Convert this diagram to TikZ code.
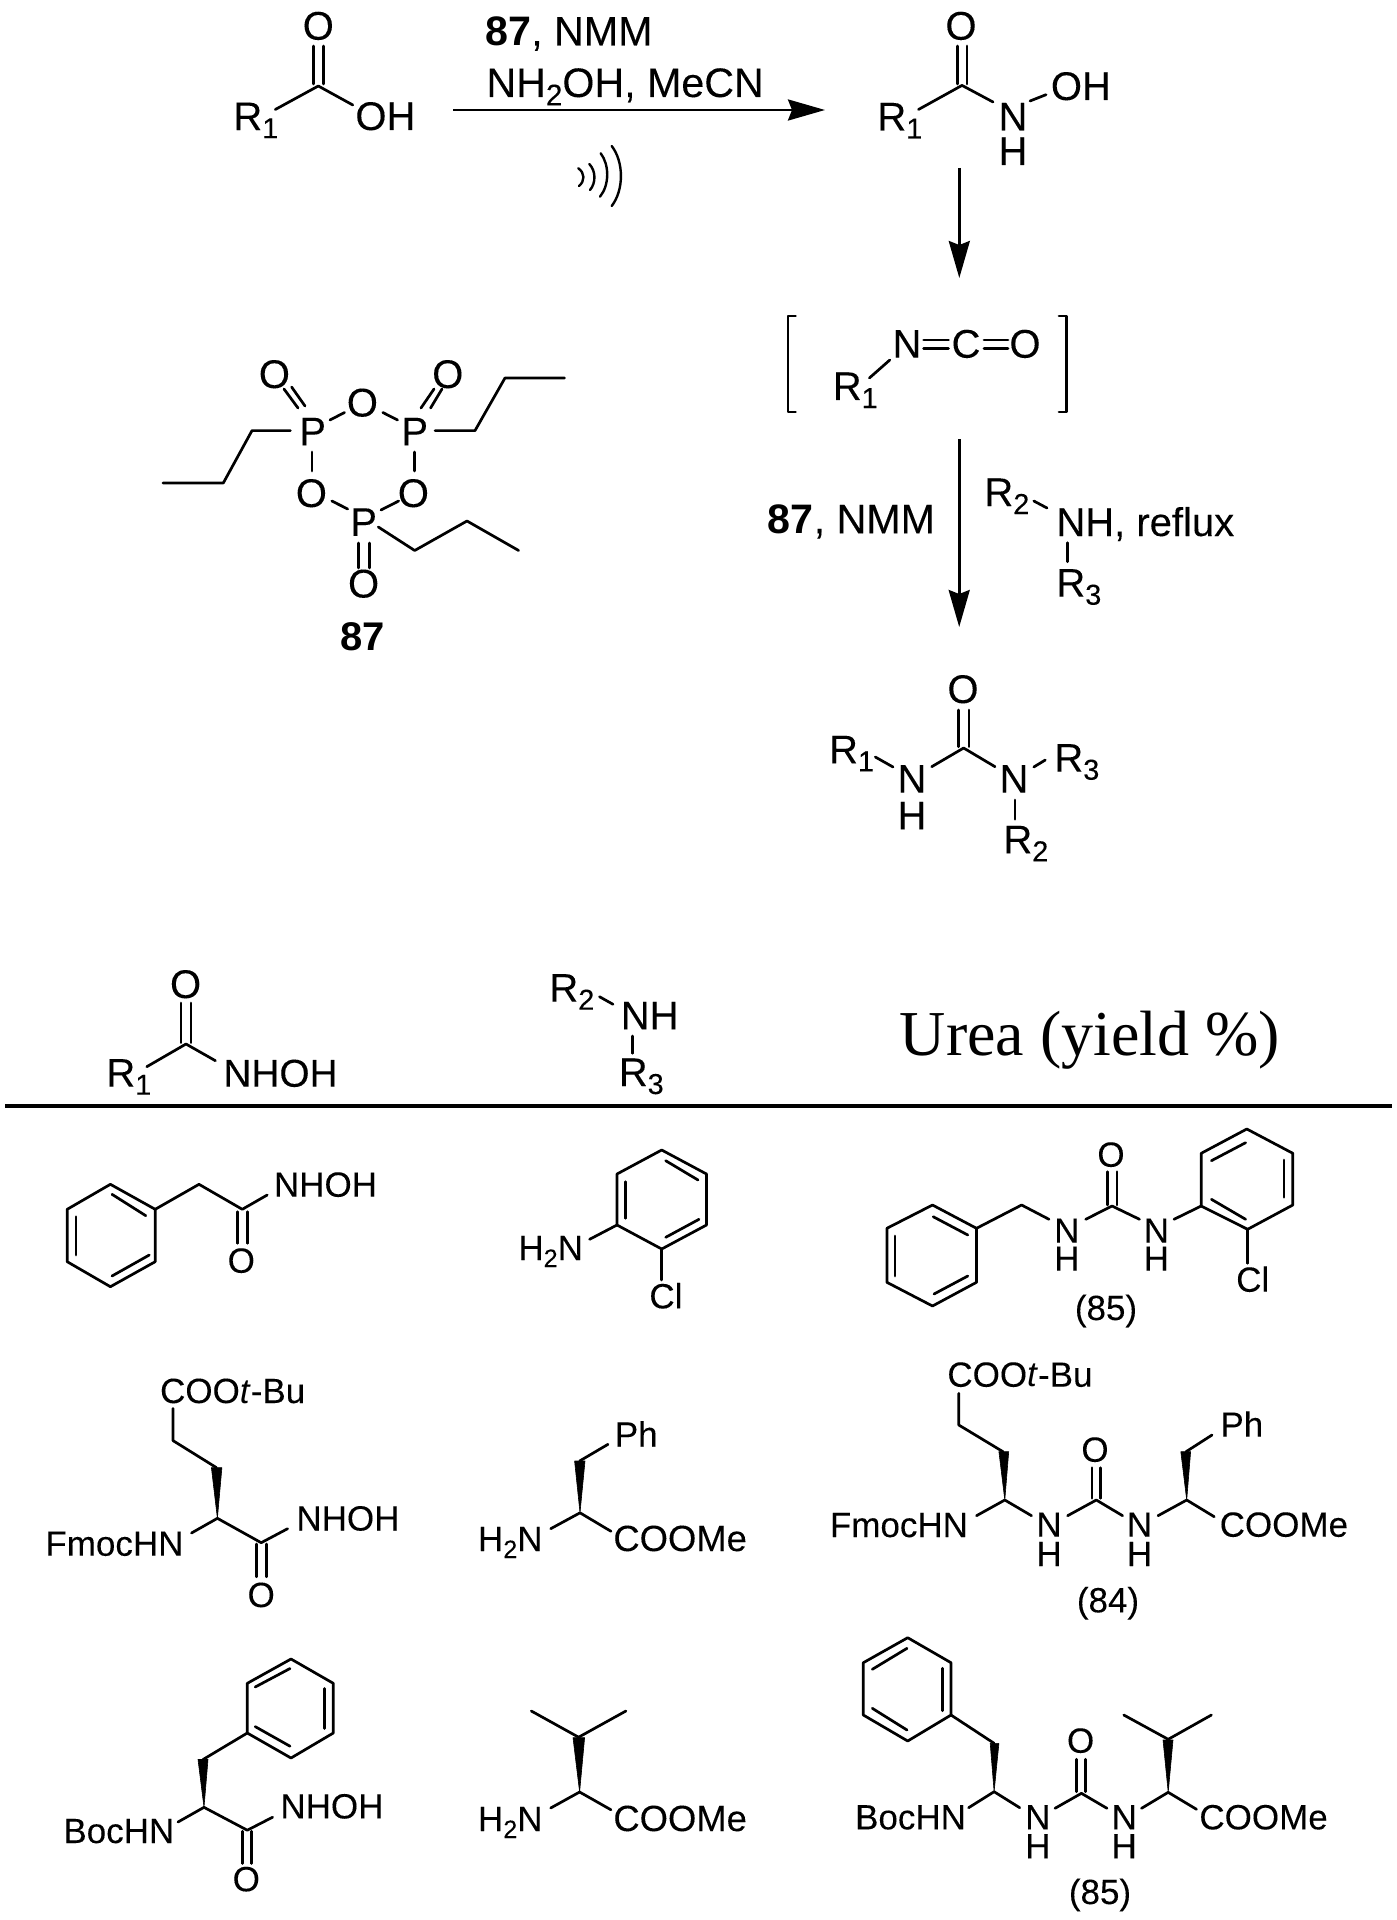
\documentclass[tikz,border=0pt]{standalone}
\usepackage{fontspec}
\setmainfont[UprightFeatures={FakeBold=0.12}]{Liberation Sans}
\newfontfamily\serfam{Liberation Serif}
\usetikzlibrary{arrows.meta}
\newcommand{\sbs}[1]{\raisebox{-0.2em}{\scalebox{0.72}{#1}}}
\tikzset{
  bond/.style={line width=1.35pt,line cap=round,line join=round,black},
  thin bond/.style={line width=1.2pt,line cap=round,black},
  wedge/.style={fill=black,draw=black,line width=0.3pt,line join=round},
  rarrow/.style={line width=1.4pt,-{Stealth[length=18.5pt,width=10.5pt,inset=2pt]}},
  txtl/.style={inner sep=0pt,anchor=base west,font=\fontsize{20}{24}\selectfont},
  txtc/.style={inner sep=0pt,anchor=base,font=\fontsize{20}{24}\selectfont},
  cond/.style={inner sep=0pt,anchor=base west,font=\fontsize{20.6}{24}\selectfont},
  tabl/.style={inner sep=0pt,anchor=base west,font=\fontsize{17.5}{21}\selectfont},
  tabw/.style={inner sep=0pt,anchor=base west,font=\fontsize{18.2}{21}\selectfont},
  tabc/.style={inner sep=0pt,anchor=base,font=\fontsize{17.5}{21}\selectfont},
  rule/.style={line width=1.7pt,black},
  head/.style={inner sep=0pt,anchor=base west,font=\serfam\fontsize{32}{38}\selectfont}
}
\begin{document}
\begin{tikzpicture}[x=0.5pt,y=-0.5pt]
\useasboundingbox (0,0) rectangle (1396,1920);
\fill[white] (0,0) rectangle (1396,1920);
% ---------- acid
\node[txtc] (acidO) at (318.3,39.7) {O};
\node[txtl] (acidR) at (233,130.2) {R\sbs{1}};
\node[txtl] (acidOH) at (355,130) {OH};
\draw[bond] (275.3,109.5)--(318.3,86)--(352.8,105);
\draw[bond] (313.5,46)--(313.5,84);
\draw[bond] (323.8,46)--(323.8,84);
% ---------- arrow 1
\coordinate (a1s) at (453,110);
\coordinate (a1e) at (825,110);
\draw[rarrow] (a1s)--(a1e);
\node[cond] (r1a) at (485,45.5) {\textbf{87}, NMM};
\node[cond] (r1b) at (486,97) {NH\sbs{2}OH, MeCN};
\draw[thin bond] (578.3,168.3) .. controls (585,173) and (585,181) .. (579,186);
\draw[thin bond] (589.3,164) .. controls (596,171) and (596,183) .. (590,190);
\draw[thin bond] (600.7,153.3) .. controls (609.5,165) and (609.5,185) .. (600,196.7);
\draw[thin bond] (611.7,146) .. controls (624,162) and (624,190) .. (611.7,206);
% ---------- hydroxamic acid
\node[txtc] (haO) at (961,39.7) {O};
\node[txtl] (haR) at (877,130.5) {R\sbs{1}};
\node[txtc] (haN) at (1013,130.5) {N};
\node[txtc] (haH) at (1013,165) {H};
\node[txtl] (haOH) at (1050.5,100) {OH};
\draw[bond] (918.5,109.5)--(962,85.4)--(993,102);
\draw[bond] (957.2,46)--(957.2,84);
\draw[bond] (967,46)--(967,84);
\draw[bond] (1030,101)--(1046,94.7);
% ---------- arrow 2
\coordinate (a2s) at (959.3,168);
\coordinate (a2e) at (959.3,278);
\draw[rarrow] (a2s)--(a2e);
% ---------- isocyanate
\draw[bond] (795.5,316)--(788,316)--(788,412)--(795.5,412);
\draw[bond] (1059,316)--(1066.5,316)--(1066.5,412)--(1059,412);
\node[txtc] (isoN) at (907,357.7) {N};
\node[txtc] (isoC) at (966,357.7) {C};
\node[txtc] (isoO) at (1025,357.7) {O};
\node[txtl] (isoR) at (832.4,400) {R\sbs{1}};
\draw[bond] (923.6,340)--(948.5,340);
\draw[bond] (923.6,348.5)--(948.5,348.5);
\draw[bond] (984,340)--(1008,340);
\draw[bond] (984,348.5)--(1008,348.5);
\draw[bond] (869.4,378)--(889.8,360);
% ---------- arrow 3
\coordinate (a3s) at (959.2,439);
\coordinate (a3e) at (959.2,627);
\draw[rarrow] (a3s)--(a3e);
\node[cond] (r3a) at (767.5,533.3) {\textbf{87}, NMM};
\node[txtl] (r3R2) at (984,506) {R\sbs{2}};
\node[txtl] (r3NH) at (1056,536) {NH, reflux};
\node[txtl] (r3R3) at (1056,596.7) {R\sbs{3}};
\draw[bond] (1033.8,501)--(1047,508);
\draw[bond] (1067.5,542.7)--(1067.5,561.7);
% ---------- urea product
\node[txtc] (uO) at (963,703) {O};
\node[txtl] (uR1) at (828.7,763.3) {R\sbs{1}};
\node[txtc] (uN1) at (912,792.7) {N};
\node[txtc] (uH1) at (912,829.3) {H};
\node[txtc] (uN2) at (1014,792.7) {N};
\node[txtl] (uR3) at (1054,771.7) {R\sbs{3}};
\node[txtl] (uR2) at (1003,853.3) {R\sbs{2}};
\draw[bond] (931.7,766.7)--(963.6,748)--(995,766.7);
\draw[bond] (958.3,710)--(958.3,746.7);
\draw[bond] (969,710)--(969,746.7);
\draw[bond] (875.3,757)--(893,767);
\draw[bond] (1033.8,767)--(1045.3,760);
\draw[bond] (1015,800)--(1015,819.3);
% ---------- reagent 87
\node[txtc] (pOa) at (274.4,388) {O};
\node[txtc] (pOb) at (447.8,388) {O};
\node[txtc] (pOc) at (362.4,416.5) {O};
\node[txtc] (pPa) at (312.6,445.3) {P};
\node[txtc] (pPb) at (414.7,445.3) {P};
\node[txtc] (pOd) at (311.4,507) {O};
\node[txtc] (pOe) at (413.4,507) {O};
\node[txtc] (pPc) at (363.6,535.8) {P};
\node[txtc] (pOf) at (363.6,597.5) {O};
\node[txtc] (cmpd) at (362.4,650) {\textbf{87}};
\draw[bond] (284,389)--(298,408);
\draw[bond] (291.6,387)--(305,406);
\draw[bond] (421,408)--(434,389);
\draw[bond] (430.6,408)--(442,389);
\draw[bond] (330,420)--(344.5,412.5);
\draw[bond] (382.8,412.5)--(397.5,420);
\draw[bond] (312,452)--(312,471);
\draw[bond] (414.7,452)--(414.7,471);
\draw[bond] (331.8,501)--(347.7,509);
\draw[bond] (398.7,501)--(381,510);
\draw[bond] (358.5,543)--(358.5,568);
\draw[bond] (369.4,543)--(369.4,568);
\draw[bond] (290.3,430.6)--(252,430.6)--(223.3,483)--(163,483);
\draw[bond] (435,430.6)--(475,430.6)--(505,378)--(564.5,378);
\draw[bond] (378.3,527)--(414.7,550.5)--(467,521)--(518.6,550.5);
% ---------- table head
\node[txtc] (hO) at (185.6,998) {O};
\node[txtl] (hR1) at (106,1086.7) {R\sbs{1}};
\node[txtl,font=\fontsize{19.4}{24}\selectfont] (hNHOH) at (223,1086.7) {NHOH};
\draw[bond] (146.8,1066.7)--(186,1044)--(215.4,1060.7);
\draw[bond] (181,1003)--(181,1042.7);
\draw[bond] (191,1003)--(191,1042.7);
\node[txtl] (hR2) at (549,1001.7) {R\sbs{2}};
\node[txtl] (hNH) at (620.4,1029.3) {NH};
\node[txtl] (hR3) at (618.4,1086) {R\sbs{3}};
\draw[bond] (599.5,996.7)--(613,1004.3);
\draw[bond] (632.8,1036)--(632.8,1053.3);
\node[head] (hU) at (899.5,1055.3) {Urea (yield \%)};
\coordinate (ruleL) at (5,1106);
\coordinate (ruleR) at (1392,1106);
\draw[rule] (ruleL)--(ruleR);
% ---------- row 1 hydroxamic
\draw[bond] (110.4,1184.3)--(155.2,1209.3)--(155.2,1261.7)--(110.4,1286.7)--(67.2,1261.7)--(67.2,1209.3)--cycle;
\draw[bond] (112,1194.3)--(145.8,1215.7);
\draw[bond] (149.3,1255)--(112,1276);
\draw[bond] (76,1216.7)--(76,1255);
\draw[bond] (155.2,1209.3)--(199,1184.3)--(242.3,1209.3)--(267.2,1195);
\draw[bond] (237.8,1211.7)--(237.8,1243.3);
\draw[bond] (247.3,1211.7)--(247.3,1243.3);
\node[tabc] (a1O) at (241.3,1272.7) {O};
\node[tabl] (a1N) at (273.6,1196.7) {NHOH};
% ---------- row 1 aniline
\draw[bond] (661.7,1150)--(706.5,1174)--(706.5,1225)--(661.7,1249)--(617,1225)--(617,1174)--cycle;
\draw[bond] (665.7,1160.7)--(698,1180);
\draw[bond] (699,1219.3)--(665.7,1237.3);
\draw[bond] (625.4,1181.7)--(625.4,1218.3);
\draw[bond] (617,1225)--(589.6,1239.3);
\draw[bond] (661.7,1249)--(661.7,1280);
\node[tabl] (b1N) at (518,1260) {H\sbs{2}N};
\node[tabl] (b1Cl) at (649,1308.3) {Cl};
% ---------- row 1 urea
\draw[bond] (932.5,1205)--(976.5,1228.3)--(976.5,1282.3)--(932.5,1306)--(886.9,1282.3)--(886.9,1228.3)--cycle;
\draw[bond] (933.2,1216.7)--(967.8,1235);
\draw[bond] (967.8,1276)--(934,1294);
\draw[bond] (895,1236)--(895,1276);
\draw[bond] (976.5,1228.3)--(1021.6,1205)--(1049,1219.3);
\draw[bond] (1085.7,1219.3)--(1112,1206)--(1139.5,1219.3);
\draw[bond] (1107.7,1171.7)--(1107.7,1205);
\draw[bond] (1117,1171.7)--(1117,1205);
\draw[bond] (1174,1219.3)--(1201.2,1206);
\draw[bond] (1201.2,1153.3)--(1246.8,1129)--(1292.8,1153.3)--(1292.8,1205)--(1247.6,1229.3)--(1201.2,1206)--cycle;
\draw[bond] (1211.4,1160.7)--(1245.6,1142.7);
\draw[bond] (1284,1160)--(1284,1197.3);
\draw[bond] (1245.6,1219.3)--(1211.4,1199.3);
\draw[bond] (1247.6,1229.3)--(1247.6,1263.3);
\node[tabc] (c1O) at (1111,1166.7) {O};
\node[tabc] (c1N1) at (1066.8,1242.7) {N};
\node[tabc] (c1H1) at (1066.8,1270.7) {H};
\node[tabc] (c1N2) at (1156.4,1242.7) {N};
\node[tabc] (c1H2) at (1156.4,1270.7) {H};
\node[tabl] (c1Cl) at (1235.8,1291.7) {Cl};
\node[tabc] (c1Y) at (1106,1320) {(85)};
% ---------- row 2 hydroxamic
\node[tabl] (a2C) at (159.7,1403) {COO\textit{t}-Bu};
\draw[bond] (173,1408.4)--(173,1440.6)--(216.4,1467.6);
\fill[wedge] (217.4,1518.3)--(211.4,1467.6)--(221.9,1467.6)--cycle;
\node[tabl] (a2F) at (45,1555.7) {FmocHN};
\draw[bond] (191.5,1533)--(217.4,1518.3)--(261.2,1542.7)--(287.6,1528.7);
\node[tabl] (a2N) at (296,1530.5) {NHOH};
\draw[bond] (256.7,1544)--(256.7,1576.8);
\draw[bond] (266.2,1544)--(266.2,1576.8);
\node[tabc] (a2O) at (261.2,1607) {O};
% ---------- row 2 amine
\node[tabl] (b2P) at (614.4,1446.5) {Ph};
\draw[bond] (608,1444.3)--(579.6,1461);
\fill[wedge] (580,1512.8)--(574.6,1461)--(585,1461)--cycle;
\node[tabl] (b2N) at (477.6,1551) {H\sbs{2}N};
\draw[bond] (550.7,1528.7)--(580,1512.8)--(611,1531.3);
\node[tabw] (b2C) at (613,1551) {COOMe};
% ---------- row 2 urea
\node[tabl] (c2C) at (947,1386.7) {COO\textit{t}-Bu};
\draw[bond] (958.8,1393.3)--(958.8,1425)--(1003,1451.7);
\fill[wedge] (1004.8,1500)--(998.9,1451.7)--(1008.7,1451.7)--cycle;
\node[tabl] (c2F) at (829.5,1537) {FmocHN};
\draw[bond] (976.5,1515.7)--(1004.8,1500)--(1031.5,1515.7);
\node[tabc] (c2N1) at (1049,1536.7) {N};
\node[tabc] (c2H1) at (1049,1566) {H};
\draw[bond] (1067.6,1515.7)--(1096.3,1500)--(1122.6,1515.7);
\draw[bond] (1092,1467.7)--(1092,1498.3);
\draw[bond] (1100.2,1467.7)--(1100.2,1498.3);
\node[tabc] (c2O) at (1095,1461.7) {O};
\node[tabc] (c2N2) at (1139.5,1536.7) {N};
\node[tabc] (c2H2) at (1139.5,1566) {H};
\draw[bond] (1158,1515.7)--(1186.7,1500)--(1214.2,1516.7);
\fill[wedge] (1186.7,1500)--(1180.8,1451.7)--(1190.6,1451.7)--cycle;
\draw[bond] (1186,1451.7)--(1212,1435);
\node[tabl] (c2P) at (1220,1436.7) {Ph};
\node[tabl] (c2M) at (1219.3,1536.7) {COOMe};
\node[tabc] (c2Y) at (1108,1612.3) {(84)};
% ---------- row 3 hydroxamic
\draw[bond] (291,1659)--(333.3,1683.3)--(333.3,1733)--(291,1758)--(247.3,1733)--(247.3,1683.3)--cycle;
\draw[bond] (255.2,1687)--(290,1668.5);
\draw[bond] (324.4,1688.5)--(324.4,1728.5);
\draw[bond] (290,1746.2)--(255.2,1726.6);
\draw[bond] (247.3,1733)--(203,1759.5);
\fill[wedge] (204,1807.3)--(198,1759.5)--(208,1759.5)--cycle;
\node[tabl] (a3B) at (63,1843) {BocHN};
\draw[bond] (178,1822)--(204,1807.3)--(247.3,1830.2)--(272.6,1817.2);
\node[tabl] (a3N) at (280,1818.4) {NHOH};
\draw[bond] (242.8,1831.3)--(242.8,1863.5);
\draw[bond] (251.7,1831.3)--(251.7,1863.5);
\node[tabc] (a3O) at (246.3,1891.2) {O};
% ---------- row 3 amine
\draw[bond] (531.3,1711)--(578.6,1737.2)--(625.9,1711);
\fill[wedge] (579.6,1792)--(573,1737.7)--(584.6,1737.7)--cycle;
\node[tabl] (b3N) at (477.6,1831) {H\sbs{2}N};
\draw[bond] (550.7,1808)--(579.6,1792)--(611,1809.8);
\node[tabw] (b3C) at (613,1831) {COOMe};
% ---------- row 3 urea
\draw[bond] (907.7,1637.7)--(951,1662.7)--(951,1715)--(907.7,1741)--(863.3,1715)--(863.3,1662.7)--cycle;
\draw[bond] (872.3,1669.3)--(907,1648.3);
\draw[bond] (942.3,1668.3)--(942.3,1710.7);
\draw[bond] (907,1730)--(872.3,1708.3);
\draw[bond] (951,1715)--(994.1,1743.3);
\fill[wedge] (994.1,1791.7)--(990.2,1743.3)--(998.9,1743.3)--cycle;
\node[tabl] (c3B) at (854.7,1829.3) {BocHN};
\draw[bond] (968.6,1807.7)--(994.1,1791.7)--(1019.7,1807.7);
\node[tabc] (c3N1) at (1037.8,1829.3) {N};
\node[tabc] (c3H1) at (1037.8,1858.3) {H};
\draw[bond] (1055,1808.3)--(1081.4,1793.3)--(1107,1808.3);
\draw[bond] (1076.7,1759.3)--(1076.7,1791.7);
\draw[bond] (1085.7,1759.3)--(1085.7,1791.7);
\node[tabc] (c3O) at (1080.6,1752.7) {O};
\node[tabc] (c3N2) at (1124.2,1829.3) {N};
\node[tabc] (c3H2) at (1124.2,1858.3) {H};
\draw[bond] (1141.5,1808.3)--(1168.2,1792.3)--(1196.5,1809.3);
\draw[bond] (1123.8,1715)--(1168.2,1739.3)--(1211.4,1715);
\fill[wedge] (1168.2,1792.3)--(1163,1740)--(1173,1740)--cycle;
\node[tabl] (c3M) at (1199,1829.3) {COOMe};
\node[tabc] (c3Y) at (1100,1904) {(85)};
\end{tikzpicture}
\end{document}
